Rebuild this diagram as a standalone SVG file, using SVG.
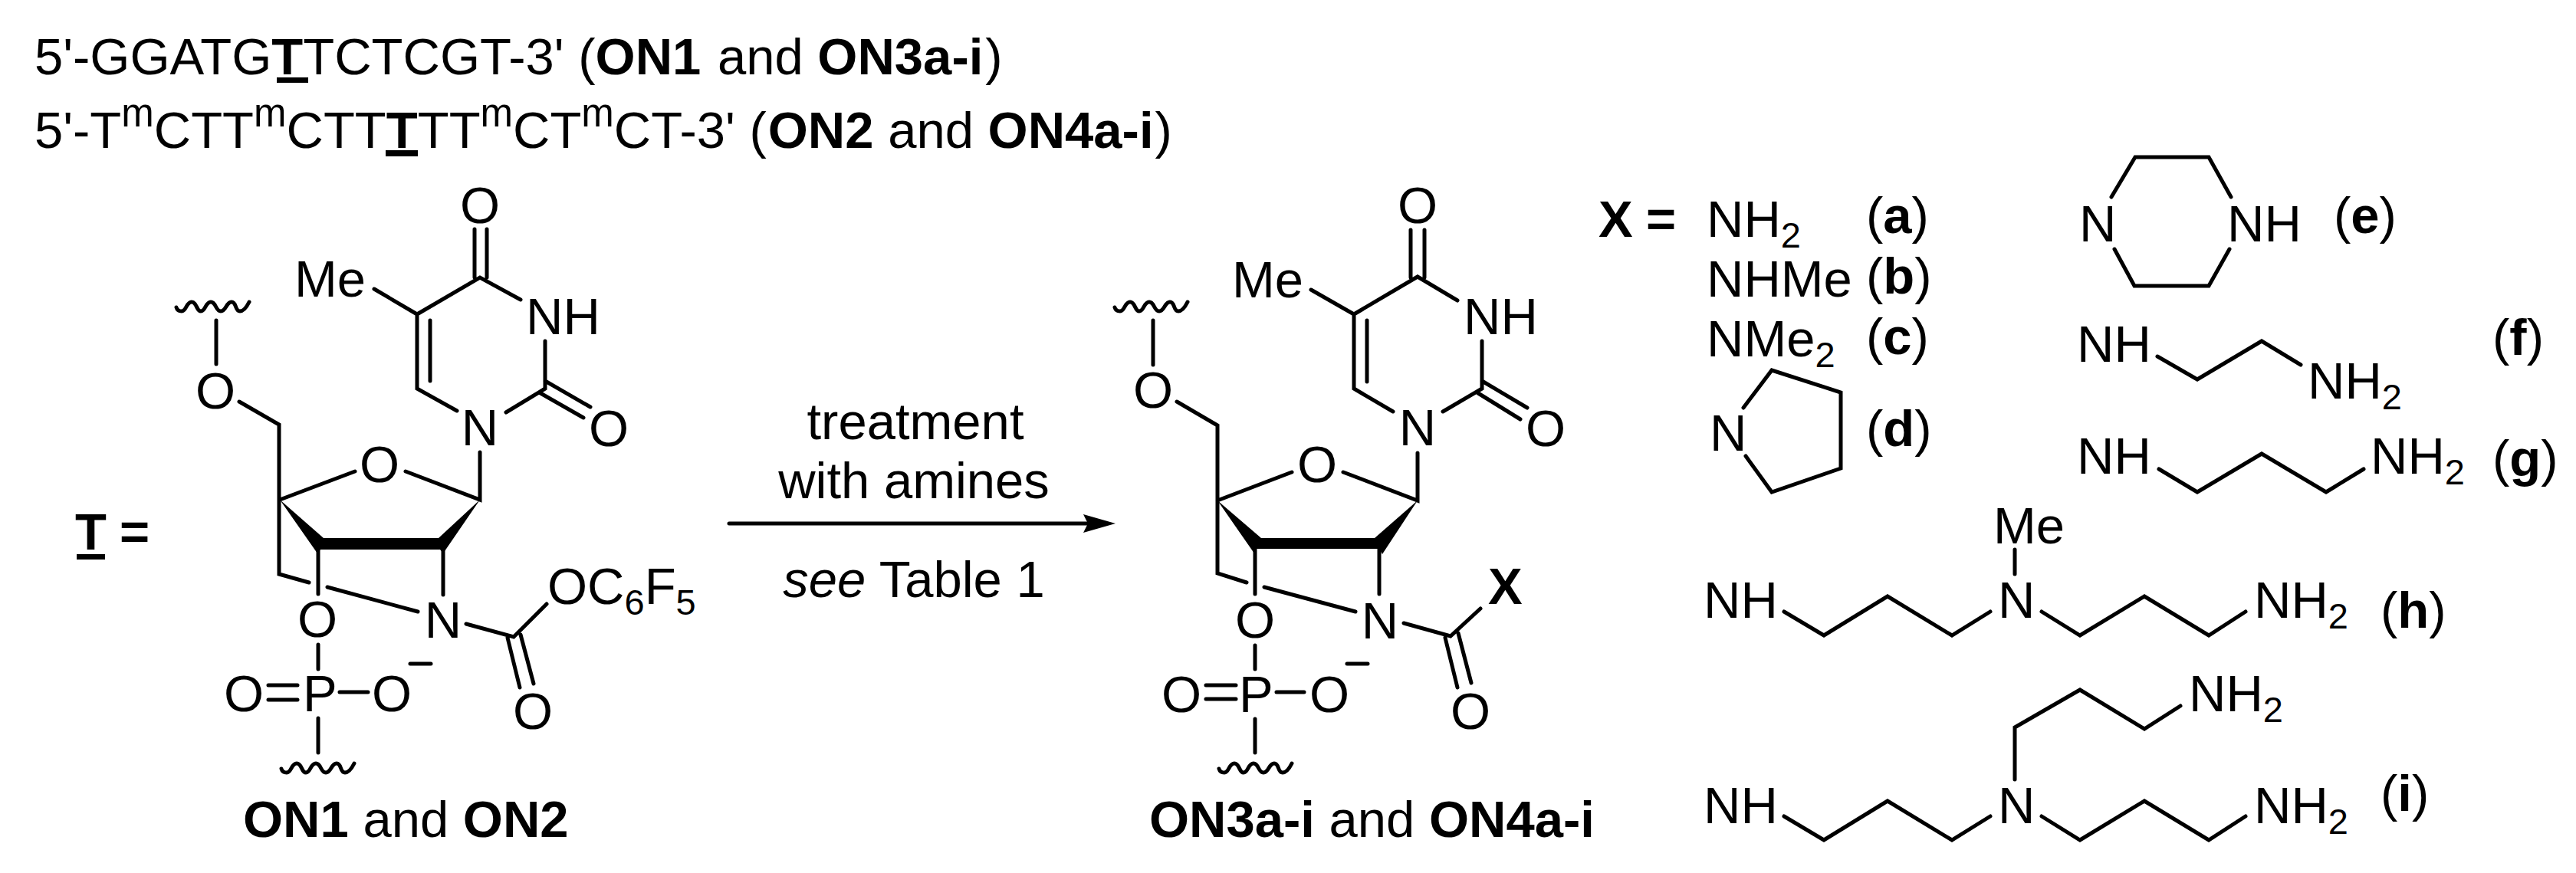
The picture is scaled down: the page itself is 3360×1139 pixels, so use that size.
<svg xmlns="http://www.w3.org/2000/svg" width="3360" height="1139" viewBox="0 0 3360 1139">
<style>
text{font-family:"Liberation Sans",Arial,sans-serif;font-size:67px;fill:#000}
.m{text-anchor:middle}
.b{font-weight:700}
.s{font-size:47px}
.u{font-size:51px}
.bond{fill:none;stroke:#000;stroke-width:5;stroke-linecap:round;stroke-linejoin:miter}
.fill{fill:#000;stroke:none}
</style>
<defs>
<path id="wavy" class="bond" d="M0 9C1 13 4 14 7 14C13 14 13 2 20 2C27 2 26 14 32 14C38 14 38 2 45 2C52 2 51 14 58 14C65 14 65 2 72 2C79 2 76 14 83 14C88 14 92 8 95 2"/>
</defs>
<rect width="3360" height="1139" fill="#fff"/>
<g id="sequences">
<text x="45" y="97">5'-GGATG<tspan class="b">T</tspan>TCTCGT-3' (<tspan class="b">ON1</tspan><tspan dx="3"> and </tspan><tspan class="b">ON3a-i</tspan><tspan dx="3">)</tspan></text>
<text x="45" y="193">5'-T<tspan class="u" dy="-28">m</tspan><tspan dy="28">CTT</tspan><tspan class="u" dy="-28">m</tspan><tspan dy="28">CTT</tspan><tspan class="b">T</tspan>TT<tspan class="u" dy="-28">m</tspan><tspan dy="28">CT</tspan><tspan class="u" dy="-28">m</tspan><tspan dy="28">CT-3' (</tspan><tspan class="b" dx="2">ON2</tspan> and <tspan class="b">ON4a-i</tspan><tspan dx="2">)</tspan></text>
<rect class="fill" x="361" y="101" width="41" height="7"/>
<rect class="fill" x="503" y="196" width="42" height="8"/>
</g>
<g id="t-label">
<text class="b" x="98" y="717">T</text>
<rect class="fill" x="100" y="723" width="37" height="7"/>
<text class="b" x="156" y="717">=</text>
</g>
<g id="reactant">
<path class="bond" d="M619 299V362M635 299V362M488 377L544 410L626 362L679 391M711 445V507L660 538M544 410V507L596 536M561 418V497M711 497L770 531M705 513L761 545"/>
<path class="bond" d="M282 418V475M312 524L364 554V749L403 760M365 652L463 615M529 615L626 652V590M415 717V775M578 717V776M427 766L545 798M415 841V873M350 894H388M350 913H388M443 903H480M535 866H562M415 937V982M608 814L670 831L713 788M662 832L678 897M679 828L696 892"/>
<polygon class="fill" points="365,652 422,702 572,702 626,652 578,722 574,717 418,717 414,722"/>
<use href="#wavy" x="230" y="392"/>
<use href="#wavy" x="367" y="994"/>
<text class="m" x="626" y="291">O</text>
<text x="384" y="387">Me</text>
<text x="686" y="436">NH</text>
<text class="m" x="626" y="581">N</text>
<text class="m" x="794" y="582">O</text>
<text class="m" x="281" y="533">O</text>
<text class="m" x="495" y="629">O</text>
<text class="m" x="578" y="832">N</text>
<text class="m" x="414" y="831">O</text>
<text x="395" y="928">P</text>
<text class="m" x="318" y="928">O</text>
<text class="m" x="511" y="928">O</text>
<text class="m" x="695" y="951">O</text>
<text x="714" y="788">OC<tspan class="s" dy="14">6</tspan><tspan dy="-14">F</tspan><tspan class="s" dy="14">5</tspan></text>
<text class="b" x="317" y="1092">ON1<tspan font-weight="400"> and </tspan>ON2</text>
</g>
<g id="connectors">
<path class="bond" d="M951 683H1425" stroke-linecap="butt"/>
<polygon class="fill" points="1455,683 1413,671 1419,683 1413,695"/>
</g>
<g id="conditions">
<text class="m" x="1194" y="573">treatment</text>
<text class="m" x="1192" y="650">with amines</text>
<text class="m" x="1192" y="779"><tspan font-style="italic">see</tspan> Table 1</text>
</g>
<g id="product">
<path class="bond" d="M1840 300V362M1858 300V362M1710 378L1766 410L1849 361L1901 392M1933 445V507L1882 537M1766 410V507L1817 537M1783 418V498M1933 497L1992 532M1928 513L1983 547"/>
<path class="bond" d="M1504 418V476M1535 524L1588 555V748L1626 760M1588 653L1685 616M1752 616L1849 653V591M1637 716V775M1799 716V775M1649 766L1768 798M1637 842V873M1573 894H1612M1573 912H1612M1665 903H1701M1757 866H1784M1637 938V982M1831 813L1892 830L1931 794M1885 832L1901 897M1902 826L1919 891"/>
<polygon class="fill" points="1588,653 1645,702 1793,702 1849,653 1803,723 1799,716 1639,716 1636,722"/>
<use href="#wavy" x="1454" y="392"/>
<use href="#wavy" x="1590" y="994"/>
<text class="m" x="1849" y="291">O</text>
<text x="1607" y="388">Me</text>
<text x="1909" y="436">NH</text>
<text class="m" x="1849" y="581">N</text>
<text class="m" x="2016" y="582">O</text>
<text class="m" x="1504" y="532">O</text>
<text class="m" x="1718" y="629">O</text>
<text class="m" x="1800" y="833">N</text>
<text class="m" x="1637" y="832">O</text>
<text x="1616" y="929">P</text>
<text class="m" x="1541" y="929">O</text>
<text class="m" x="1734" y="929">O</text>
<text class="m" x="1918" y="951">O</text>
<text class="b" x="1941" y="788">X</text>
<text class="b" x="1499" y="1092">ON3a-i<tspan font-weight="400"> and </tspan>ON4a-i</text>
</g>
<g id="amine-a">
<text class="b" x="2085" y="309">X</text>
<text class="b" x="2147" y="309">=</text>
<text x="2226" y="309">NH<tspan class="s" dy="14">2</tspan></text>
<text x="2434" y="304">(<tspan class="b">a</tspan>)</text>
</g>
<g id="amine-b">
<text x="2226" y="387">NHMe</text>
<text x="2434" y="383">(<tspan class="b">b</tspan>)</text>
</g>
<g id="amine-c">
<text x="2226" y="465">NMe<tspan class="s" dy="14">2</tspan></text>
<text x="2434" y="462">(<tspan class="b">c</tspan>)</text>
</g>
<g id="amine-d">
<path class="bond" d="M2274 532L2311 483L2401 512V611L2311 642L2277 595"/>
<text x="2230" y="588">N</text>
<text x="2434" y="582">(<tspan class="b">d</tspan>)</text>
</g>
<g id="amine-e">
<path class="bond" d="M2754 257L2785 205H2881L2910 257M2758 325L2784 373H2881L2908 325"/>
<text x="2712" y="315">N</text>
<text x="2905" y="315">NH</text>
<text x="3044" y="304">(<tspan class="b">e</tspan>)</text>
</g>
<g id="amine-f">
<path class="bond" d="M2814 465L2866 495L2950 445L3001 476"/>
<text x="2709" y="472">NH</text>
<text x="3010" y="520">NH<tspan class="s" dy="14">2</tspan></text>
<text x="3251" y="463">(<tspan class="b">f</tspan>)</text>
</g>
<g id="amine-g">
<path class="bond" d="M2816 612L2866 642L2950 592L3034 642L3083 612"/>
<text x="2709" y="618">NH</text>
<text x="3092" y="618">NH<tspan class="s" dy="14">2</tspan></text>
<text x="3251" y="621">(<tspan class="b">g</tspan>)</text>
</g>
<g id="amine-h">
<path class="bond" d="M2628 717V749M2327 798L2379 829L2462 778L2546 829L2596 798M2663 798L2713 829L2797 778L2881 829L2929 798"/>
<text x="2600" y="709">Me</text>
<text x="2222" y="806">NH</text>
<text x="2606" y="806">N</text>
<text x="2940" y="806">NH<tspan class="s" dy="14">2</tspan></text>
<text x="3105" y="819">(<tspan class="b">h</tspan>)</text>
</g>
<g id="amine-i">
<path class="bond" d="M2327 1065L2379 1096L2462 1045L2546 1096L2596 1065M2663 1065L2713 1096L2797 1045L2881 1096L2929 1065M2628 1017V949L2713 900L2797 951L2844 921"/>
<text x="2222" y="1074">NH</text>
<text x="2606" y="1074">N</text>
<text x="2940" y="1074">NH<tspan class="s" dy="14">2</tspan></text>
<text x="2855" y="928">NH<tspan class="s" dy="14">2</tspan></text>
<text x="3105" y="1058">(<tspan class="b">i</tspan>)</text>
</g>
</svg>
